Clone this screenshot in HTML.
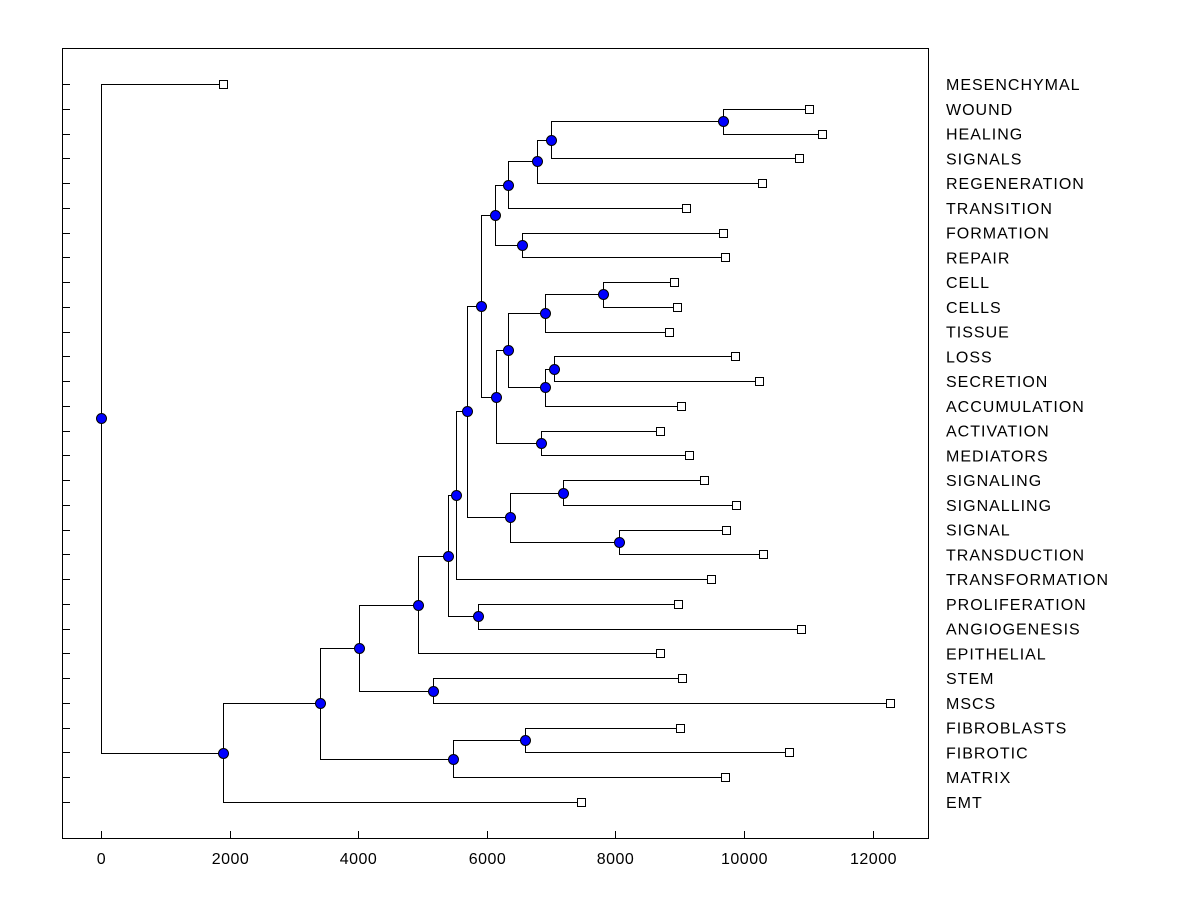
<!DOCTYPE html>
<html><head><meta charset="utf-8"><style>
body{margin:0;background:#fff;}
svg{display:block;font-family:"Liberation Sans",Arial,sans-serif;}
</style></head><body>
<svg id="chart" width="1200" height="900" viewBox="0 0 1200 900">
<rect x="0" y="0" width="1200" height="900" fill="#fff"/>
<rect x="62.5" y="48.5" width="866" height="790" fill="none" stroke="#000" stroke-width="1"/>
<g id="g"></g>
</svg>
<script>
const leafNames=["MESENCHYMAL","WOUND","HEALING","SIGNALS","REGENERATION","TRANSITION","FORMATION","REPAIR","CELL","CELLS","TISSUE","LOSS","SECRETION","ACCUMULATION","ACTIVATION","MEDIATORS","SIGNALING","SIGNALLING","SIGNAL","TRANSDUCTION","TRANSFORMATION","PROLIFERATION","ANGIOGENESIS","EPITHELIAL","STEM","MSCS","FIBROBLASTS","FIBROTIC","MATRIX","EMT"];
const leafHeights=[1897,11011,11213,10855,10280,9098,9673,9705,8911,8958,8834,9860,10233,9020,8694,9145,9378,9876,9720,10295,9487,8974,10886,8694,9036,12271,9005,10700,9705,7465];
const mergeA=[1,30,31,32,6,33,8,36,11,38,37,14,40,35,16,18,44,43,47,21,48,50,24,51,26,54,53,56,0];
const mergeB=[2,3,4,5,7,34,9,10,12,13,39,15,41,42,17,19,45,46,20,22,49,23,25,52,27,28,55,29,57];
const mergeHeights=[9673,6998,6781,6330,6547,6128,7807,6905,7045,6905,6330,6843,6143,5910,7185,8056,6361,5692,5521,5863,5397,4930,5163,4012,6594,5474,3406,1897,0];
const xTicks=[0,2000,4000,6000,8000,10000,12000];

const NS="http://www.w3.org/2000/svg";
const g=document.getElementById('g');
const xs=v=>101+v*0.0643;
const rowY=i=>84+i*(802-84)/29;
function mk(tag,attrs,parent){const e=document.createElementNS(NS,tag);for(const k in attrs)e.setAttribute(k,attrs[k]);(parent||g).appendChild(e);return e;}

const N=leafNames.length;
const px=[],py=[];
for(let i=0;i<N;i++){px.push(xs(leafHeights[i]));py.push(rowY(i));}
for(let k=0;k<mergeA.length;k++){px.push(xs(mergeHeights[k]));py.push((py[mergeA[k]]+py[mergeB[k]])/2);}

for(let i=0;i<N;i++){
  const t=mk('line',{x1:62,x2:70,y1:Math.round(rowY(i))+0.5,y2:Math.round(rowY(i))+0.5,stroke:'#000'});
  
  
  const lb=mk('text',{x:946,y:rowY(i)+6,'font-size':16,'letter-spacing':1,fill:'#000'});
  lb.textContent=leafNames[i];
  
  
}
xTicks.forEach(v=>{
  const x=Math.round(xs(v))+0.5;
  const t=mk('line',{x1:x,x2:x,y1:831,y2:838,stroke:'#000'});
  
  
  const lb=mk('text',{x:x,y:864,'font-size':16,'letter-spacing':0.5,'text-anchor':'middle',fill:'#000'});
  lb.textContent=v;
  
  
});

for(let k=0;k<mergeA.length;k++){
  const n=N+k,a=mergeA[k],b=mergeB[k];
  const x=Math.round(px[n])+0.5;
  const d=`M${Math.round(px[a])+0.5},${Math.round(py[a])+0.5}H${x}V${Math.round(py[b])+0.5}H${Math.round(px[b])+0.5}`;
  const p=mk('path',{d:d,fill:'none',stroke:'#000','stroke-width':1});
  
  
}
for(let i=0;i<N;i++){
  const r=mk('rect',{x:Math.round(px[i])-3.5,y:Math.round(py[i])-3.5,width:8,height:8,fill:'#fff',stroke:'#000'});
  
  
}
for(let k=0;k<mergeA.length;k++){
  const n=N+k;
  const c=mk('circle',{cx:Math.round(px[n])+0.5,cy:Math.round(py[n])+0.5,r:5,fill:'#0000ff',stroke:'#000','stroke-width':1});
  
  
}
</script>
</body></html>
